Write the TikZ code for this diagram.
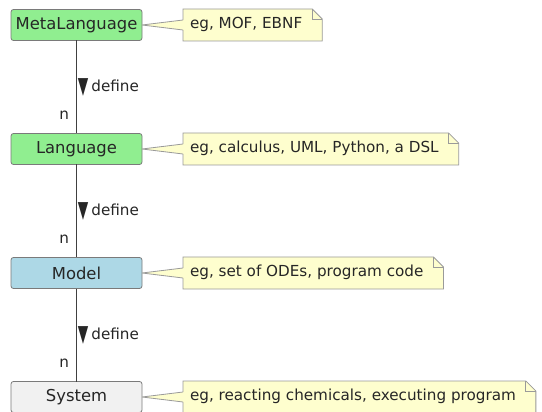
\documentclass[tikz,border=0pt]{standalone}
\usepackage{fontspec}
\setmainfont{DejaVu Sans}
\usetikzlibrary{positioning,backgrounds}

\definecolor{metagreen}{HTML}{90EE90}
\definecolor{modelblue}{HTML}{ADD8E6}
\definecolor{sysgray}{HTML}{F1F1F1}
\definecolor{notefill}{HTML}{FEFECE}
\definecolor{notedraw}{HTML}{9A9A9A}
\definecolor{boxdraw}{HTML}{7A7A7A}

\newcommand{\boxfont}{\fontsize{16.4}{19}\selectfont}
\newcommand{\notefont}{\fontsize{15.2}{18}\selectfont}
\newcommand{\dirmark}{\raisebox{-1.5pt}{\fontsize{16}{16}\selectfont\scalebox{0.85}[1.45]{▼}}\hspace{3pt}}

\begin{document}
\begin{tikzpicture}[
    box/.style={draw=boxdraw, line width=0.8pt, rounded corners=2.5pt,
      minimum width=131pt, minimum height=31pt, inner sep=0, outer sep=0,
      font=\boxfont, text=black!85},
    note/.style={inner xsep=0, inner ysep=0, outer sep=0, minimum height=32pt,
      text height=11pt, text depth=3.5pt, font=\notefont, text=black!85},
    paper/.style={fill=notefill, draw=notedraw, line width=0.8pt},
    link/.style={draw=black!75, line width=0.8pt},
    deflabel/.style={right, inner sep=1pt, font=\notefont, text=black!85},
    multlabel/.style={left, inner sep=1pt, xshift=-6pt, font=\notefont, text=black!85}]
\clip (0,0) rectangle (542pt,-412pt);

\node[box, fill=metagreen] (meta) at (76.5pt,-25pt) {MetaLanguage};
\node[box, fill=metagreen, below=93pt of meta] (lang) {Language};
\node[box, fill=modelblue, below=93pt of lang] (model) {Model};
\node[box, fill=sysgray, below=93pt of model] (sys) {System};

\node[note, right=48pt of meta] (metanote) {eg, MOF, EBNF};
\node[note, right=48pt of lang] (langnote) {eg, calculus, UML, Python, a DSL};
\node[note, right=48pt of model] (modelnote) {eg, set of ODEs, program code};
\node[note, right=48pt of sys] (sysnote) {eg, reacting chemicals, executing program};

\draw[link] (meta) -- node[deflabel] {\dirmark define}
  node[multlabel, pos=0.8] {n} (lang);
\draw[link] (lang) -- node[deflabel] {\dirmark define}
  node[multlabel, pos=0.8] {n} (model);
\draw[link] (model) -- node[deflabel] {\dirmark define}
  node[multlabel, pos=0.8] {n} (sys);

% note paper and callout wedge
\begin{scope}[on background layer]
\foreach \b/\n in {meta/metanote, lang/langnote, model/modelnote, sys/sysnote} {
  \filldraw[paper] ([xshift=-7pt]\n.north west) -- ([xshift=10pt]\n.north east)
    -- ([xshift=20pt,yshift=-10pt]\n.north east) -- ([xshift=20pt]\n.south east)
    -- ([xshift=-7pt]\n.south west) -- cycle;
  \draw[paper, fill=none] ([xshift=10pt]\n.north east) |- ([xshift=20pt,yshift=-10pt]\n.north east);
  \fill[notefill] (\b.east) -- ([xshift=-7pt,yshift=5pt]\n.west) -- ([xshift=-5pt,yshift=5pt]\n.west)
    -- ([xshift=-5pt,yshift=-5pt]\n.west) -- ([xshift=-7pt,yshift=-5pt]\n.west) -- cycle;
  \draw[draw=notedraw, line width=0.8pt] ([xshift=-7pt,yshift=5pt]\n.west) -- (\b.east)
    -- ([xshift=-7pt,yshift=-5pt]\n.west);
}
\end{scope}
\end{tikzpicture}
\end{document}
